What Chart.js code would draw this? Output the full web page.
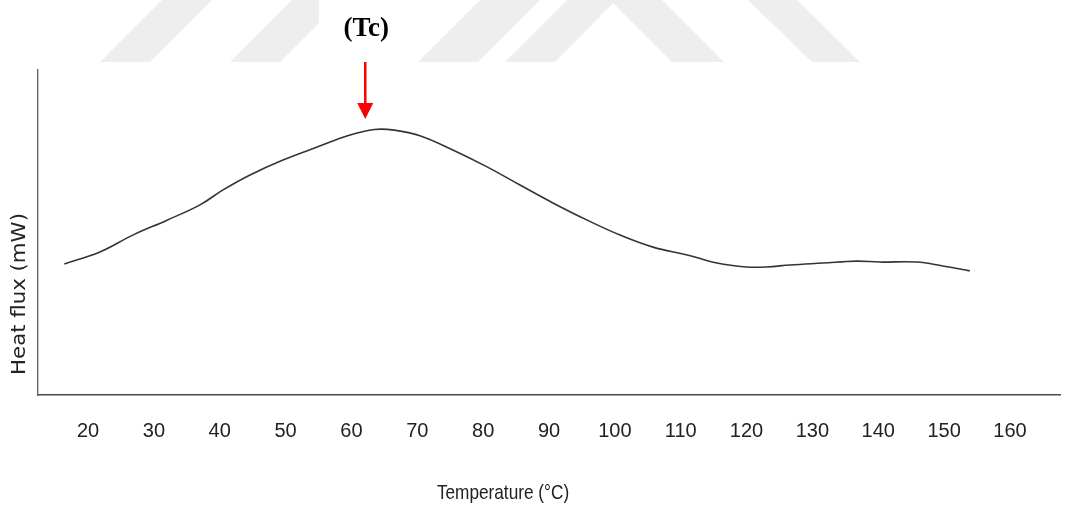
<!DOCTYPE html>
<html>
<head>
<meta charset="utf-8">
<title>Heat flux</title>
<script src="https://cdn.jsdelivr.net/npm/chart.js@4.4.1/dist/chart.umd.min.js"></script>
<style>
	html, body { margin: 0; padding: 0; background: #fff; }
	#wrap { width: 1067px; height: 509px; position: relative; }
</style>
</head>
<body>
<div id="wrap"><canvas id="dsc-chartcanvas"></canvas></div>
<script>

// temperature (°C) and heat flux (arbitrary units)
var temps = [16.4, 21.8, 26.8, 32.0, 37.0, 40.5, 44.6, 49.6, 54.8, 59.8, 63.5, 66.5, 70.4, 75.4,
	80.6, 85.6, 90.6, 95.8, 100.8, 105.8, 111.0, 115.5, 120.0, 123.1, 126.6, 131.6, 136.7, 140.2, 145.8, 149.8, 153.9];
var flux = [4.03, 4.40, 4.92, 5.38, 5.85, 6.31, 6.77, 7.23, 7.63, 8.00, 8.17, 8.15, 7.98, 7.54,
	7.02, 6.46, 5.91, 5.38, 4.92, 4.55, 4.31, 4.06, 3.94, 3.94, 4.00, 4.06, 4.12, 4.09, 4.09, 3.97, 3.82];
var tickValues = [20, 30, 40, 50, 60, 70, 80, 90, 100, 110, 120, 130, 140, 150, 160];
var tcTemp = 62.1;

var sans = "'Liberation Sans', Arial, sans-serif";

var points = [];
for (var i = 0; i < temps.length; i++) {
	points.push({ x : temps[i], y : flux[i] });
}

// white page + faint watermark band at the top
var backdrop = {
	id : "backdrop",
	beforeDraw : function(chart) {
		var c = chart.ctx;
		c.save();
		c.fillStyle = "#ffffff";
		c.fillRect(0, 0, chart.width, chart.height);
		c.fillStyle = "#eeeeee";
		var shapes = [
			[[100, 62], [150, 62], [212, 0], [162, 0]],
			[[230, 62], [280, 62], [342, 0], [292, 0]],
			[[418, 62], [478, 62], [540, 0], [480, 0]],
			[[505, 62], [567, 0], [662, 0], [724, 62], [672, 62], [613, 3], [555, 62]],
			[[748, 0], [797, 0], [860, 62], [812, 62]]
		];
		shapes.forEach(function(s) {
			c.beginPath();
			c.moveTo(s[0][0], s[0][1]);
			for (var k = 1; k < s.length; k++) c.lineTo(s[k][0], s[k][1]);
			c.closePath();
			c.fill();
		});
		c.fillStyle = "#ffffff";
		c.fillRect(319, 0, 100, 62);
		c.restore();
	}
};

// axis titles and the Tc marker
var labels = {
	id : "labels",
	afterDraw : function(chart) {
		var c = chart.ctx;
		var xs = chart.scales.x;
		c.save();
		c.fillStyle = "#222";
		c.textAlign = "center";
		c.textBaseline = "middle";

		c.save();
		c.translate(503, 493);
		c.scale(0.82, 1);
		c.font = "21px " + sans;
		c.fillText("Temperature (°C)", 0, 0);
		c.restore();

		c.save();
		c.translate(20, 294);
		c.rotate(-Math.PI / 2);
		c.scale(1.12, 1);
		c.font = "19px 'DejaVu Sans', Verdana, sans-serif";
		c.fillText("Heat flux (mW)", 0, 0);
		c.restore();

		var tx = xs.getPixelForValue(tcTemp);
		c.fillStyle = "#000";
		c.font = "bold 27px 'Liberation Serif', 'Times New Roman', serif";
		c.fillText("(Tc)", tx + 1, 29);

		c.strokeStyle = "#ff0000";
		c.fillStyle = "#ff0000";
		c.lineWidth = 2.5;
		c.beginPath();
		c.moveTo(tx, 62);
		c.lineTo(tx, 105);
		c.stroke();
		c.beginPath();
		c.moveTo(tx - 8, 103);
		c.lineTo(tx + 8, 103);
		c.lineTo(tx, 119);
		c.closePath();
		c.fill();
		c.restore();
	}
};

var ctx = document.getElementById("dsc-chartcanvas");

var data = {
	datasets : [
		{
			label : "Heat flux",
			data : points,
			borderColor : "#33333f",
			borderWidth : 1.6,
			pointRadius : 0,
			fill : false,
			tension : 0.4
		}
	]
};

var options = {
	responsive : true,
	maintainAspectRatio : false,
	animation : false,
	layout : {
		padding : { top : 70, right : 7, bottom : 0, left : 0 }
	},
	plugins : {
		legend : { display : false },
		tooltip : { enabled : false }
	},
	scales : {
		x : {
			type : "linear",
			min : 12.4,
			max : 167.6,
			grid : { display : false, drawTicks : false },
			border : { display : true, color : "#4a4a4a", width : 1.6 },
			afterBuildTicks : function(axis) {
				axis.ticks = tickValues.map(function(v) { return { value : v }; });
			},
			afterFit : function(axis) {
				axis.height = 114;
			},
			ticks : {
				padding : 24,
				color : "#222",
				maxRotation : 0,
				autoSkip : false,
				font : { family : sans, size : 20 }
			}
		},
		y : {
			min : 0,
			max : 10,
			grid : { display : false, drawTicks : false },
			border : { display : true, color : "#666", width : 1.4 },
			ticks : { display : false },
			afterFit : function(axis) {
				axis.width = 38;
			}
		}
	}
};

var chart = new Chart(ctx, {
	type : "line",
	data : data,
	options : options,
	plugins : [backdrop, labels]
});

</script>
</body>
</html>
